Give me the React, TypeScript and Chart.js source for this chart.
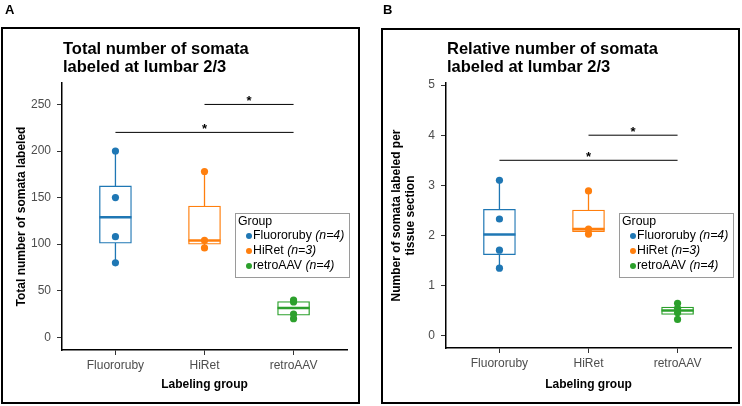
import React, { useEffect, useRef } from "react";
import { Chart, registerables } from "chart.js";

Chart.register(...registerables);

// ---------- data ----------
const groups = ["Fluororuby", "HiRet", "retroAAV"];
const groupN = [4, 3, 4];
const groupColors = ["#1F77B4", "#FF7F0E", "#2CA02C"];

// Panel A: total number of somata labeled
const totalFluororuby = [80, 108, 150, 200];
const totalHiRet = [96, 104, 178];
const totalRetroAAV = [20, 25, 38, 40];
const totalTicks = [0, 50, 100, 150, 200, 250];
const totalSigFrom = [2, 1];
const totalSigTo = [3, 3];
const totalSigLevel = [250, 220];

// Panel B: relative number per tissue section
const relFluororuby = [1.35, 1.71, 2.33, 3.1];
const relHiRet = [2.03, 2.13, 2.89];
const relRetroAAV = [0.33, 0.46, 0.55, 0.65];
const relTicks = [0, 1, 2, 3, 4, 5];
const relSigFrom = [2, 1];
const relSigTo = [3, 3];
const relSigLevel = [4, 3.5];

const FONT = "'Liberation Sans', Arial, Helvetica, sans-serif";

function quantile(sorted: number[], p: number) {
  const h = (sorted.length - 1) * p;
  const lo = Math.floor(h);
  const hi = Math.ceil(h);
  return sorted[lo] + (sorted[hi] - sorted[lo]) * (h - lo);
}

function boxStats(values: number[]) {
  const s = [...values].sort((a, b) => a - b);
  const q1 = quantile(s, 0.25);
  const med = quantile(s, 0.5);
  const q3 = quantile(s, 0.75);
  const iqr = q3 - q1;
  const lo = Math.min(...s.filter((v) => v >= q1 - 1.5 * iqr));
  const hi = Math.max(...s.filter((v) => v <= q3 + 1.5 * iqr));
  return { q1, med, q3, lo, hi };
}

interface PanelProps {
  letter: string;
  title: string[];
  yTitle: string | string[];
  series: number[][];
  yMin: number;
  yMax: number;
  yTicks: number[];
  sigFrom: number[];
  sigTo: number[];
  sigLevel: number[];
  left: number;
  padRight: number;
  yAxisWidth: number;
  xAxisHeight: number;
  yTitlePad: number;
  xTitlePad: number;
}

const BOX_PX = 32;

function Panel(p: PanelProps) {
  const ref = useRef<HTMLCanvasElement | null>(null);

  useEffect(() => {
    if (!ref.current) return;
    const stats = p.series.map(boxStats);
    const halfUnits = 0.18;
    const datasets: any[] = [];
    stats.forEach((st, i) => {
      datasets.push({
        type: "line",
        data: [
          { x: i + 1, y: st.lo },
          { x: i + 1, y: st.hi },
        ],
        borderColor: groupColors[i],
        borderWidth: 1.3,
        pointRadius: 0,
        order: 10,
      });
    });
    datasets.push({
      type: "bar",
      data: stats.map((st, i) => ({ x: i + 1, y: [st.q1, st.q3] })),
      backgroundColor: "#ffffff",
      borderColor: groupColors,
      borderWidth: 1.3,
      borderSkipped: false,
      barThickness: BOX_PX,
      order: 9,
    });
    stats.forEach((st, i) => {
      datasets.push({
        type: "line",
        data: [
          { x: i + 1 - halfUnits, y: st.med },
          { x: i + 1 + halfUnits, y: st.med },
        ],
        borderColor: groupColors[i],
        borderWidth: 2.5,
        pointRadius: 0,
        order: 8,
      });
    });
    p.sigLevel.forEach((lvl, k) => {
      datasets.push({
        type: "line",
        data: [
          { x: p.sigFrom[k], y: lvl },
          { x: p.sigTo[k], y: lvl },
        ],
        borderColor: "#000000",
        borderWidth: 1,
        pointRadius: 0,
        order: 5,
      });
    });
    p.series.forEach((vals, i) => {
      datasets.push({
        type: "scatter",
        data: vals.map((v) => ({ x: i + 1, y: v })),
        backgroundColor: groupColors[i],
        borderWidth: 0,
        pointRadius: 3.6,
        order: 1,
      });
    });

    const decor = {
      id: "decor",
      afterDraw(chart: any) {
        const ctx = chart.ctx;
        const area = chart.chartArea;
        const xs = chart.scales.x;
        const ys = chart.scales.y;
        ctx.save();
        // panel letter
        ctx.fillStyle = "#000";
        ctx.font = `bold 13px ${FONT}`;
        ctx.textBaseline = "alphabetic";
        ctx.textAlign = "left";
        ctx.fillText(p.letter, p.left === 0 ? 5 : 12, 14);
        // title
        ctx.font = `bold 16.5px ${FONT}`;
        p.title.forEach((line, i) => {
          ctx.fillText(line, area.left + 1, 53.5 + i * 18);
        });
        // asterisks
        ctx.font = `bold 13px ${FONT}`;
        ctx.textAlign = "center";
        p.sigLevel.forEach((lvl, k) => {
          const x = xs.getPixelForValue((p.sigFrom[k] + p.sigTo[k]) / 2);
          const y = ys.getPixelForValue(lvl);
          ctx.fillText("*", x, y + 1);
        });
        // legend
        const lw = 114;
        const lx = area.right + 2 - lw;
        const ly = 213;
        const lh = 64;
        ctx.strokeStyle = "#9a9a9a";
        ctx.lineWidth = 1;
        ctx.strokeRect(lx + 0.5, ly + 0.5, lw, lh);
        ctx.textAlign = "left";
        ctx.textBaseline = "middle";
        ctx.font = `12.3px ${FONT}`;
        ctx.fillStyle = "#000";
        ctx.fillText("Group", lx + 3, ly + 8.5);
        groups.forEach((g, i) => {
          const cy = ly + 23 + i * 15;
          ctx.beginPath();
          ctx.fillStyle = groupColors[i];
          ctx.arc(lx + 14, cy, 3, 0, Math.PI * 2);
          ctx.fill();
          ctx.fillStyle = "#000";
          ctx.font = `12.3px ${FONT}`;
          const label = g + " ";
          ctx.fillText(label, lx + 18, cy);
          const w = ctx.measureText(label).width;
          ctx.font = `italic 12.3px ${FONT}`;
          ctx.fillText(`(n=${groupN[i]})`, lx + 18 + w, cy);
        });
        ctx.restore();
      },
    };

    const chart = new Chart(ref.current, {
      type: "bar",
      data: { datasets },
      options: {
        animation: false,
        responsive: false,
        events: [],
        layout: { padding: { top: 83, right: p.padRight, left: 0, bottom: 0 } },
        plugins: {
          legend: { display: false },
          tooltip: { enabled: false },
          title: { display: false },
        },
        scales: {
          x: {
            type: "linear",
            min: 0.4,
            max: 3.6,
            offset: false,
            afterFit: (s: any) => {
              s.height = p.xAxisHeight;
            },
            afterBuildTicks: (s: any) => {
              s.ticks = groups.map((_, i) => ({ value: i + 1 }));
            },
            ticks: {
              autoSkip: false,
              maxRotation: 0,
              padding: 3,
              color: "#4D4D4D",
              font: { family: FONT, size: 12 },
              callback: (_v: any, i: number) => groups[i],
            },
            grid: {
              display: true,
              offset: false,
              drawOnChartArea: false,
              drawTicks: true,
              tickLength: 5,
              color: "#333333",
            },
            border: { display: true, color: "#000000", width: 1.5 },
            title: {
              display: true,
              text: "Labeling group",
              color: "#000",
              font: { family: FONT, size: 12, weight: "bold" },
              padding: { top: 0, bottom: p.xTitlePad },
            },
          },
          y: {
            type: "linear",
            min: p.yMin,
            max: p.yMax,
            afterFit: (s: any) => {
              s.width = p.yAxisWidth;
            },
            afterBuildTicks: (s: any) => {
              s.ticks = p.yTicks.map((v) => ({ value: v }));
            },
            ticks: {
              padding: 6,
              color: "#4D4D4D",
              font: { family: FONT, size: 12 },
            },
            grid: {
              display: true,
              drawOnChartArea: false,
              drawTicks: true,
              tickLength: 5,
              color: "#333333",
            },
            border: { display: true, color: "#000000", width: 1.5 },
            title: {
              display: true,
              text: p.yTitle,
              color: "#000",
              font: { family: FONT, size: 12, weight: "bold", lineHeight: 1.2 },
              padding: { top: p.yTitlePad, bottom: 0 },
            },
          },
        },
      } as any,
      plugins: [decor],
    });
    return () => chart.destroy();
  }, []);

  return (
    <canvas
      ref={ref}
      width={371}
      height={406}
      style={{ position: "absolute", left: p.left, top: 0, width: 371, height: 406 }}
    />
  );
}

export default function App() {
  return (
    <div
      style={{
        position: "fixed",
        left: 0,
        top: 0,
        width: 742,
        height: 406,
        background: "#fff",
        overflow: "hidden",
      }}
    >
      <div
        style={{
          position: "absolute",
          left: 1,
          top: 27,
          width: 359,
          height: 377,
          border: "2.5px solid #000",
          boxSizing: "border-box",
        }}
      />
      <div
        style={{
          position: "absolute",
          left: 381,
          top: 28,
          width: 359,
          height: 376,
          border: "2.5px solid #000",
          boxSizing: "border-box",
        }}
      />
      <Panel
        letter="A"
        title={["Total number of somata", "labeled at lumbar 2/3"]}
        yTitle="Total number of somata labeled"
        series={[totalFluororuby, totalHiRet, totalRetroAAV]}
        yMin={-13.6}
        yMax={273}
        yTicks={totalTicks}
        sigFrom={totalSigFrom}
        sigTo={totalSigTo}
        sigLevel={totalSigLevel}
        left={0}
        padRight={24}
        yAxisWidth={62}
        xAxisHeight={56}
        yTitlePad={14}
        xTitlePad={14}
      />
      <Panel
        letter="B"
        title={["Relative number of somata", "labeled at lumbar 2/3"]}
        yTitle={["Number of somata labeled per", "tissue section"]}
        series={[relFluororuby, relHiRet, relRetroAAV]}
        yMin={-0.24}
        yMax={5.04}
        yTicks={relTicks}
        sigFrom={relSigFrom}
        sigTo={relSigTo}
        sigLevel={relSigLevel}
        left={371}
        padRight={11}
        yAxisWidth={75}
        xAxisHeight={58}
        yTitlePad={18}
        xTitlePad={14.5}
      />
    </div>
  );
}
